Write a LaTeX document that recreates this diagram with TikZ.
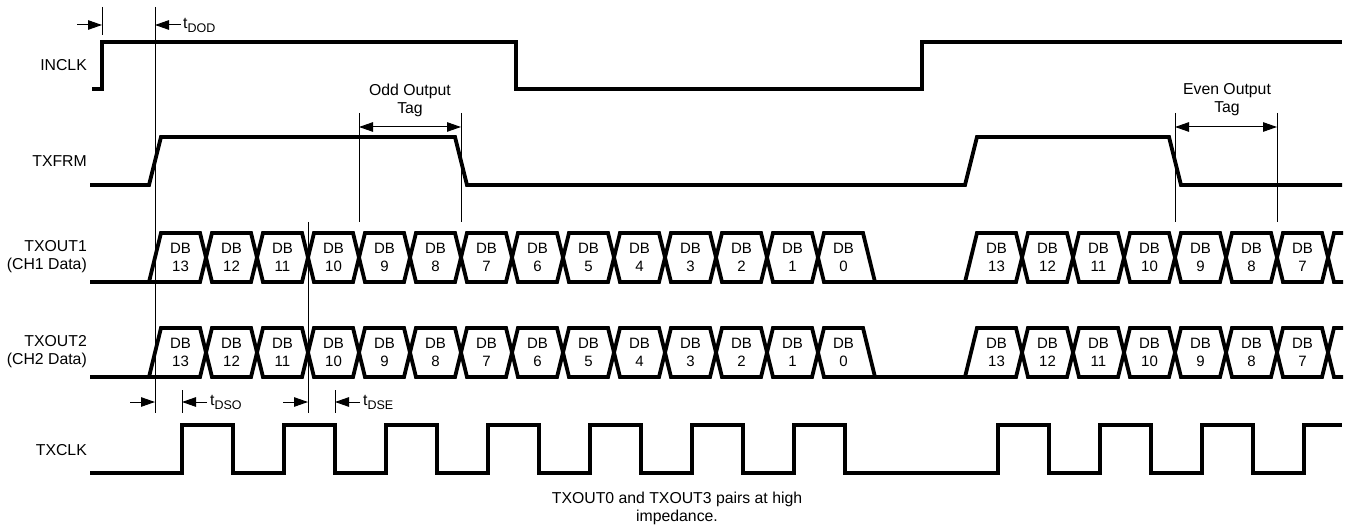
\documentclass[tikz,border=0pt]{standalone}
\usepackage{fontspec}
\setmainfont{Liberation Sans}
\usetikzlibrary{arrows.meta}

\newcommand{\tsub}[1]{t\raisebox{-4pt}{\fontsize{12.5}{12.5}\selectfont #1}}

\begin{document}
\begin{tikzpicture}[x=1pt,y=-1pt,
    sig/.style={line width=3.8pt,line join=miter},
    guide/.style={line width=1pt},
    dimarrow/.style={guide,-{Triangle[length=14pt,width=9.5pt]}},
    tagarrow/.style={guide,{Triangle[length=14pt,width=9.5pt]}-{Triangle[length=14pt,width=9.5pt]}},
    siglabel/.style={font=\fontsize{15.8}{18}\selectfont,anchor=east,align=right,inner sep=0pt},
    dblabel/.style={font=\fontsize{15}{18}\selectfont,align=center,inner sep=0pt},
    note/.style={font=\fontsize{15.8}{18}\selectfont,align=center,inner sep=0pt},
    tlabel/.style={font=\fontsize{15.8}{18}\selectfont,anchor=west,inner sep=0pt}]
  \useasboundingbox (0,0) rectangle (1351,529);

  % signal names
  \node[siglabel] (inclk) at (87,65) {INCLK};
  \node[siglabel] (txfrm) at (87,161) {TXFRM};
  \node[siglabel] (txout1) at (87,257) {TXOUT1\\(CH1 Data)};
  \node[siglabel] (txout2) at (87,352) {TXOUT2\\(CH2 Data)};
  \node[siglabel] (txclk) at (87,450) {TXCLK};

  % waveforms
  \draw[sig] (92,89) -- (102,89) -- (102,42) -- (516,42) -- (516,89) -- (922,89) -- (922,42) -- (1342,42);
  \draw[sig] (90,185) -- (149,185) -- (161,137) -- (455,137) -- (467,185) -- (965,185) -- (977,137)
    -- (1169,137) -- (1181,185) -- (1342,185);
  \draw[sig] (90,473)
    \foreach \x in {182,284,...,794} { -- (\x,473) -- (\x,425) -- (\x+51,425) -- (\x+51,473) }
    \foreach \x in {998,1100,1202} { -- (\x,473) -- (\x,425) -- (\x+51,425) -- (\x+51,473) }
    -- (1304,473) -- (1304,425) -- (1342,425);

  % data buses
  \begin{scope}
    \clip (0,0) rectangle (1343,529);
    \foreach \ytop/\ybot/\row in {233/282/1,328/377/2} {
      \draw[sig] (90,\ybot) -- (149,\ybot)
        \foreach \k in {0,2,...,12} {
          -- (155+51*\k+6,\ytop) -- (155+51*\k+45,\ytop) -- (155+51*\k+57,\ybot) -- (155+51*\k+96,\ybot) }
        -- (900,\ybot);
      \draw[sig] (149,\ybot)
        \foreach \k in {0,2,...,12} {
          -- (155+51*\k+45,\ybot) -- (155+51*\k+57,\ytop) -- (155+51*\k+96,\ytop) -- (155+51*\k+108,\ybot) }
        -- (965,\ybot)
        \foreach \k in {0,2,4,6} {
          -- (971+51*\k+6,\ytop) -- (971+51*\k+45,\ytop) -- (971+51*\k+57,\ybot) -- (971+51*\k+96,\ybot) };
      \draw[sig] (965,\ybot)
        \foreach \k in {0,2,4,6} {
          -- (971+51*\k+45,\ybot) -- (971+51*\k+57,\ytop) -- (971+51*\k+96,\ytop) -- (971+51*\k+108,\ybot) };
      \foreach \k in {0,...,13} {
        \pgfmathtruncatemacro{\bit}{13-\k}
        \node[dblabel] (db\row-\bit) at (180.5+51*\k,{(\ytop+\ybot)/2}) {DB\\\bit};
      }
      \foreach \k in {0,...,6} {
        \pgfmathtruncatemacro{\bit}{13-\k}
        \node[dblabel] (db\row-\bit-b) at (996.5+51*\k,{(\ytop+\ybot)/2}) {DB\\\bit};
      }
    }
  \end{scope}

  % t_DOD
  \draw[guide] (102,7) -- (102,35);
  \draw[guide] (155,7) -- (155,413);
  \draw[dimarrow] (77,25) -- (102,25);
  \draw[dimarrow] (181,25) -- (155,25);
  \node[tlabel] (tdod) at (183,25) {\tsub{DOD}};

  % output tags
  \draw[guide] (359,113) -- (359,222);
  \draw[guide] (461,113) -- (461,222);
  \draw[tagarrow] (359,127) -- (461,127);
  \node[note] (oddtag) at (410,100) {Odd Output\\Tag};
  \draw[guide] (1175,113) -- (1175,222);
  \draw[guide] (1277,113) -- (1277,222);
  \draw[tagarrow] (1175,127) -- (1277,127);
  \node[note] (eventag) at (1227,100) {Even Output\\Tag};

  % t_DSO, t_DSE
  \draw[guide] (308,222) -- (308,413);
  \draw[guide] (182,390) -- (182,413);
  \draw[guide] (335,390) -- (335,413);
  \draw[dimarrow] (130,402) -- (155,402);
  \draw[dimarrow] (207,402) -- (182,402);
  \node[tlabel] (tdso) at (210,402) {\tsub{DSO}};
  \draw[dimarrow] (283,402) -- (308,402);
  \draw[dimarrow] (360,402) -- (335,402);
  \node[tlabel] (tdse) at (363,402) {\tsub{DSE}};

  \node[note] (hiz) at (677,508) {TXOUT0 and TXOUT3 pairs at high\\impedance.};
\end{tikzpicture}
\end{document}
